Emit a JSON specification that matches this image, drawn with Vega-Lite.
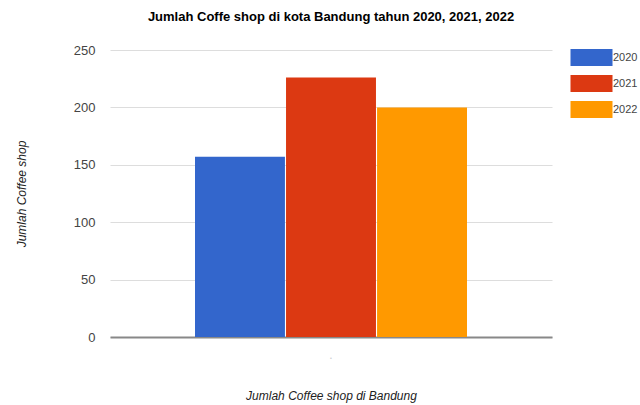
{
  "$schema": "https://vega.github.io/schema/vega-lite/v6.json",
  "width": 442,
  "height": 287,
  "autosize": {"type": "none"},
  "padding": {"left": 110, "top": 50, "right": 88, "bottom": 68},
  "background": "white",
  "title": {
    "text": "Jumlah Coffe shop di kota Bandung tahun 2020, 2021, 2022",
    "font": "Liberation Sans, Arial",
    "fontSize": 13,
    "fontWeight": "bold",
    "color": "#000000",
    "anchor": "middle",
    "offset": 20
  },
  "data": {
    "values": [
      {"kategori": ".", "tahun": "2020", "jumlah": 157},
      {"kategori": ".", "tahun": "2021", "jumlah": 226},
      {"kategori": ".", "tahun": "2022", "jumlah": 200}
    ]
  },
  "mark": {"type": "bar"},
  "encoding": {
    "x": {
      "field": "kategori",
      "type": "nominal",
      "scale": {"paddingInner": 0, "paddingOuter": 0.3125},
      "axis": {
        "title": "Jumlah Coffee shop di Bandung",
        "titleFont": "Liberation Sans, Arial",
        "titleFontSize": 12,
        "titleFontStyle": "italic",
        "titleFontWeight": "normal",
        "titleColor": "#222222",
        "titlePadding": 30,
        "labelAngle": 0,
        "labelColor": "#cccccc",
        "labelFontSize": 12,
        "labelPadding": 12,
        "ticks": false,
        "domainColor": "#888888",
        "domainWidth": 2,
        "grid": false
      }
    },
    "xOffset": {
      "field": "tahun",
      "type": "nominal",
      "scale": {"paddingInner": 0.012, "paddingOuter": 0}
    },
    "y": {
      "field": "jumlah",
      "type": "quantitative",
      "scale": {"domain": [0, 250], "nice": false},
      "axis": {
        "values": [0, 50, 100, 150, 200, 250],
        "title": "Jumlah Coffee shop",
        "titleFont": "Liberation Sans, Arial",
        "titleFontSize": 12,
        "titleFontStyle": "italic",
        "titleFontWeight": "normal",
        "titleColor": "#222222",
        "titlePadding": 45,
        "labelFont": "Liberation Sans, Arial",
        "labelFontSize": 13,
        "labelColor": "#444444",
        "labelPadding": 15,
        "ticks": false,
        "domain": false,
        "gridColor": "#dddddd",
        "gridWidth": 1
      }
    },
    "color": {
      "field": "tahun",
      "type": "nominal",
      "scale": {"domain": ["2020", "2021", "2022"], "range": ["#3366cc", "#dc3912", "#ff9900"]},
      "legend": {
        "title": null,
        "orient": "none",
        "legendX": 471,
        "legendY": -3,
        "padding": 0,
        "symbolType": "M-2,-0.8H2V0.8H-2Z",
        "symbolSize": 441,
        "symbolStrokeWidth": 0,
        "symbolOpacity": 1,
        "labelFont": "Liberation Sans, Arial",
        "labelFontSize": 11,
        "labelColor": "#444444",
        "labelOffset": 11,
        "rowPadding": 7
      }
    }
  },
  "config": {
    "view": {"stroke": null},
    "font": "Liberation Sans, Arial"
  }
}
